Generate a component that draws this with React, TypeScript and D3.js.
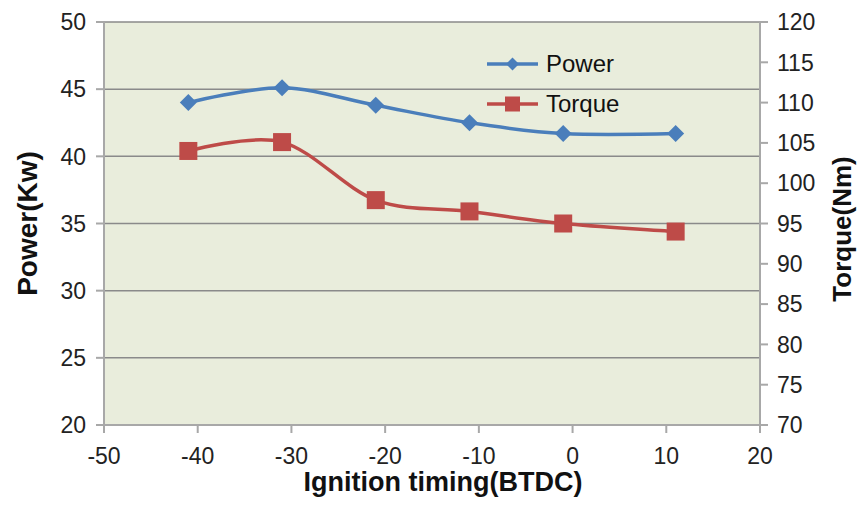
import React from "react";
import * as d3 from "d3";

const timing = [-41, -31, -21, -11, -1, 11];
const power = [44.0, 45.1, 43.8, 42.5, 41.7, 41.7];
const torque = [104.0, 105.1, 97.9, 96.5, 95.0, 94.0];
const xTicks = [-50, -40, -30, -20, -10, 0, 10, 20];
const leftTicks = [20, 25, 30, 35, 40, 45, 50];
const rightTicks = [70, 75, 80, 85, 90, 95, 100, 105, 110, 115, 120];
const seriesNames = ["Power", "Torque"];

const W = 862;
const H = 508;
const M = { left: 104, right: 760, top: 22, bottom: 425 };
const FONT = "'Liberation Sans', Arial, Helvetica, sans-serif";
const BLUE = "#4A7EBB";
const RED = "#BE4B48";

export default function App() {
  const x = d3.scaleLinear().domain([-50, 20]).range([M.left, M.right]);
  const yL = d3.scaleLinear().domain([20, 50]).range([M.bottom, M.top]);
  const yR = d3.scaleLinear().domain([70, 120]).range([M.bottom, M.top]);

  const curve = d3.curveCardinal.tension(0);
  const powerLine = d3
    .line<number>()
    .x((_, i) => x(timing[i]))
    .y((d) => yL(d))
    .curve(curve)(power) as string;
  const torqueLine = d3
    .line<number>()
    .x((_, i) => x(timing[i]))
    .y((d) => yR(d))
    .curve(curve)(torque) as string;

  const diamond = (cx: number, cy: number, r: number, h: number) =>
    `M${cx},${cy - h}L${cx + r},${cy}L${cx},${cy + h}L${cx - r},${cy}Z`;

  const legX = 487;
  const legY = [64, 104];

  return (
    <svg
      width={W}
      height={H}
      style={{ position: "absolute", left: 0, top: 0, background: "#fff" }}
      fontFamily={FONT}
    >
      <rect
        x={M.left}
        y={M.top}
        width={M.right - M.left}
        height={M.bottom - M.top}
        fill="#E9EDDC"
      />
      {leftTicks
        .filter((t) => t > 20)
        .map((t) => (
          <line
            key={"g" + t}
            x1={M.left}
            x2={M.right}
            y1={yL(t)}
            y2={yL(t)}
            stroke="#8A8A8A"
            strokeWidth={1.5}
          />
        ))}
      {/* axes */}
      <line x1={M.left} x2={M.left} y1={M.top} y2={M.bottom} stroke="#A8A8A8" strokeWidth={2} />
      <line x1={M.right} x2={M.right} y1={M.top} y2={M.bottom} stroke="#A8A8A8" strokeWidth={2} />
      <line x1={M.left} x2={M.right} y1={M.bottom} y2={M.bottom} stroke="#A8A8A8" strokeWidth={2} />
      {leftTicks.map((t) => (
        <g key={"l" + t}>
          <line x1={M.left - 8} x2={M.left} y1={yL(t)} y2={yL(t)} stroke="#A8A8A8" strokeWidth={2} />
          <text x={86} y={yL(t)} dy="0.36em" textAnchor="end" fontSize={23} fill="#222">
            {t}
          </text>
        </g>
      ))}
      {rightTicks.map((t) => (
        <g key={"r" + t}>
          <line x1={M.right} x2={M.right + 8} y1={yR(t)} y2={yR(t)} stroke="#A8A8A8" strokeWidth={2} />
          <text x={777} y={yR(t)} dy="0.36em" textAnchor="start" fontSize={23} fill="#222">
            {t}
          </text>
        </g>
      ))}
      {xTicks.map((t) => (
        <g key={"x" + t}>
          <line x1={x(t)} x2={x(t)} y1={M.bottom} y2={M.bottom + 8} stroke="#A8A8A8" strokeWidth={2} />
          <text x={x(t)} y={464} textAnchor="middle" fontSize={23} fill="#222">
            {t}
          </text>
        </g>
      ))}
      {/* series */}
      <path d={powerLine} fill="none" stroke={BLUE} strokeWidth={3.5} />
      <path d={torqueLine} fill="none" stroke={RED} strokeWidth={3.5} />
      {power.map((v, i) => (
        <path key={"pd" + i} d={diamond(x(timing[i]), yL(v), 8.5, 8.5)} fill={BLUE} />
      ))}
      {torque.map((v, i) => (
        <rect key={"ts" + i} x={x(timing[i]) - 9} y={yR(v) - 9} width={18} height={18} fill={RED} />
      ))}
      {/* legend */}
      <line x1={legX} x2={legX + 51} y1={legY[0]} y2={legY[0]} stroke={BLUE} strokeWidth={3.5} />
      <path d={diamond(legX + 25.5, legY[0], 6.5, 6.5)} fill={BLUE} />
      <text x={546} y={legY[0] + 7.5} fontSize={24} fill="#111">
        {seriesNames[0]}
      </text>
      <line x1={legX} x2={legX + 51} y1={legY[1]} y2={legY[1]} stroke={RED} strokeWidth={3.5} />
      <rect x={legX + 25.5 - 7.5} y={legY[1] - 7.5} width={15} height={15} fill={RED} />
      <text x={546} y={legY[1] + 7.5} fontSize={24} fill="#111">
        {seriesNames[1]}
      </text>
      {/* titles */}
      <text
        x={443}
        y={491}
        textAnchor="middle"
        fontSize={27}
        fontWeight="bold"
        fill="#111"
      >
        Ignition timing(BTDC)
      </text>
      <text
        transform={`translate(37,${(M.top + M.bottom) / 2}) rotate(-90)`}
        textAnchor="middle"
        fontSize={28}
        fontWeight="bold"
        fill="#111"
      >
        Power(Kw)
      </text>
      <text
        transform={`translate(851,229) rotate(-90)`}
        textAnchor="middle"
        fontSize={26}
        fontWeight="bold"
        fill="#111"
      >
        Torque(Nm)
      </text>
    </svg>
  );
}
